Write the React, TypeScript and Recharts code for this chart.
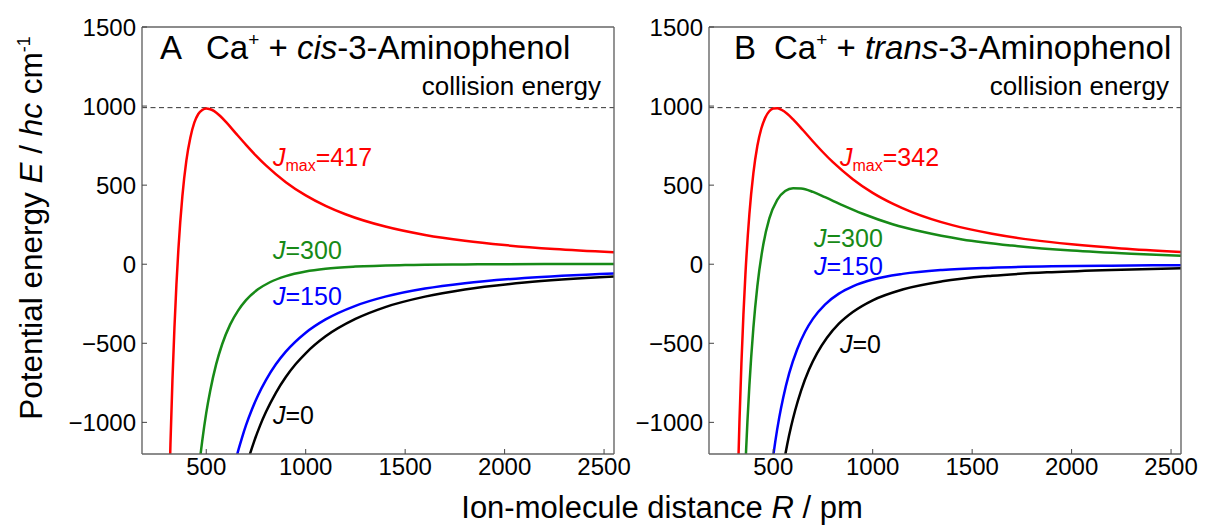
import React from 'react';
import { LineChart, Line, XAxis, YAxis, ReferenceLine } from 'recharts';

const FONT = '"Liberation Sans", Arial, Helvetica, sans-serif';

const xTicks = [500, 1000, 1500, 2000, 2500];
const yTicks = [-1000, -500, 0, 500, 1000, 1500];
const xDomain = [177, 2550];
const yDomain = [-1200, 1500];
const collisionEnergy = 990;

// A: Ca+ + cis-3-aminophenol, [R / pm, E / hc cm-1]
const cisJmax: [number, number][] = [
  [310, -1640], [320, -1140], [330, -735], [340, -405], [350, -130], [360, 95], [380, 430],
  [400, 655], [420, 800], [440, 895], [460, 950], [480, 975], [500, 985], [520, 980],
  [540, 968], [570, 937], [600, 898], [650, 826], [700, 755], [750, 687], [800, 625],
  [900, 519], [1000, 435], [1100, 369], [1200, 316], [1400, 238], [1600, 185], [1800, 148],
  [2000, 121], [2250, 96], [2550, 75],
];
const cisJ300: [number, number][] = [
  [460, -1325], [470, -1215], [480, -1115], [500, -940], [520, -800], [550, -632], [580, -506],
  [620, -382], [660, -293], [700, -227], [760, -159], [820, -114], [900, -75], [1000, -46],
  [1100, -29], [1250, -15], [1500, -5], [1800, -1], [2200, 1], [2550, 1],
];
const cisJ150: [number, number][] = [
  [640, -1280], [660, -1182], [680, -1096], [700, -1018], [730, -917], [760, -830], [800, -733],
  [850, -633], [900, -553], [1000, -433], [1100, -349], [1250, -263], [1400, -205], [1600, -154],
  [1800, -120], [2100, -87], [2550, -58],
];
const cisJ0: [number, number][] = [
  [700, -1282], [720, -1199], [740, -1123], [770, -1022], [800, -935], [850, -813], [900, -713],
  [950, -631], [1000, -563], [1100, -456], [1250, -346], [1400, -271], [1600, -205], [1800, -160],
  [2100, -116], [2550, -78],
];

// B: Ca+ + trans-3-aminophenol
const transJmax: [number, number][] = [
  [310, -2006], [320, -1455], [330, -1001], [340, -628], [350, -320], [360, -66], [380, 316],
  [400, 574], [420, 747], [440, 858], [460, 927], [480, 967], [500, 984], [520, 986],
  [540, 977], [570, 952], [600, 916], [650, 847], [700, 776], [750, 708], [800, 645],
  [900, 538], [1000, 451], [1100, 383], [1200, 328], [1400, 247], [1600, 193], [1800, 154],
  [2000, 126], [2250, 100], [2550, 78],
];
const transJ300: [number, number][] = [
  [340, -1982], [350, -1598], [360, -1273], [370, -1000], [380, -768], [400, -404], [420, -140],
  [450, 125], [480, 288], [520, 407], [560, 463], [600, 481], [640, 479], [700, 457],
  [760, 424], [850, 372], [950, 319], [1100, 253], [1250, 205], [1450, 157], [1700, 118],
  [2000, 86], [2300, 66], [2550, 54],
];
const transJ150: [number, number][] = [
  [490, -1308], [500, -1211], [510, -1123], [530, -970], [550, -844], [580, -690], [620, -539],
  [660, -427], [700, -344], [760, -255], [830, -186], [900, -140], [1000, -97], [1150, -61],
  [1350, -36], [1600, -22], [1900, -13], [2200, -9], [2550, -6],
];
const transJ0: [number, number][] = [
  [550, -1278], [560, -1207], [570, -1141], [590, -1025], [610, -925], [640, -799], [680, -666],
  [720, -564], [770, -465], [830, -376], [900, -302], [1000, -228], [1150, -160], [1350, -108],
  [1600, -73], [1900, -50], [2200, -36], [2550, -26],
];

const RED = '#ff0000';
const GREEN = '#178a17';
const BLUE = '#0000ff';
const BLACK = '#000000';

const toData = (pts: [number, number][]) => pts.map(([R, E]) => ({ R, E }));

const frame = { stroke: '#666', strokeWidth: 1.4 };
const tickLn = { stroke: '#444', strokeWidth: 1 };
const tickTxt = { fill: '#000', fontSize: 24, fontFamily: FONT };
const fmtY = (v: number) => (v < 0 ? '\u2212' + Math.abs(v) : String(v));

function Panel({ left, width, yAxisWidth, rightMargin, curves }: any) {
  return (
    <div style={{ position: 'absolute', left, top: 0 }}>
      <LineChart width={width} height={528} margin={{ top: 26, right: rightMargin, bottom: 0, left: 0 }}>
        <XAxis xAxisId="b" type="number" dataKey="R" domain={xDomain} allowDataOverflow
          ticks={xTicks} interval={0} height={74} tickSize={-5} tickMargin={9}
          axisLine={frame} tickLine={tickLn} tick={tickTxt} />
        <XAxis xAxisId="t" orientation="top" type="number" dataKey="R" domain={xDomain} allowDataOverflow
          ticks={xTicks} interval={0} height={1} tickSize={-5} tick={false}
          axisLine={frame} tickLine={tickLn} />
        <YAxis yAxisId="l" type="number" domain={yDomain} allowDataOverflow ticks={yTicks}
          interval={0} width={yAxisWidth} tickSize={-5} tickMargin={11}
          axisLine={frame} tickLine={tickLn} tick={tickTxt} tickFormatter={fmtY} />
        <YAxis yAxisId="r" orientation="right" type="number" domain={yDomain} allowDataOverflow
          ticks={yTicks} interval={0} width={1} tickSize={-5} tick={false}
          axisLine={frame} tickLine={tickLn} />
        <ReferenceLine xAxisId="b" yAxisId="l" y={collisionEnergy} stroke="#333"
          strokeWidth={1} strokeDasharray="5 3.5" />
        {curves.map((c: any, i: number) => (
          <Line key={i} xAxisId="b" yAxisId="l" data={toData(c.pts)} dataKey="E" type="monotone"
            stroke={c.color} strokeWidth={2.5} dot={false} activeDot={false} isAnimationActive={false} />
        ))}
      </LineChart>
    </div>
  );
}

function JLabel({ x, y, color, value, max }: any) {
  return (
    <text x={x} y={y} fill={color} fontSize={25} style={{ whiteSpace: 'pre' }}>
      <tspan fontStyle="italic">J</tspan>
      {max ? <tspan fontSize={16} dy={5}>max</tspan> : null}
      <tspan dy={max ? -5 : 0}>={value}</tspan>
    </text>
  );
}

function Title({ x, xLetter, letter, isomer }: any) {
  return (
    <g fontSize={33} fill="#000">
      <text x={xLetter} y={59}>{letter}</text>
      <text x={x} y={59} style={{ whiteSpace: 'pre' }}>
        Ca<tspan dy={-13} fontSize={19}>+</tspan>
        <tspan dy={13}> + </tspan>
        <tspan fontStyle="italic">{isomer}</tspan>
        <tspan>-3-Aminophenol</tspan>
      </text>
    </g>
  );
}

export default function App() {
  return (
    <div style={{ position: 'absolute', left: 0, top: 0, width: 1208, height: 528, background: '#fff', fontFamily: FONT }}>
      <Panel left={0} width={650} yAxisWidth={142} rightMargin={35}
        curves={[
          { pts: cisJmax, color: RED },
          { pts: cisJ300, color: GREEN },
          { pts: cisJ150, color: BLUE },
          { pts: cisJ0, color: BLACK },
        ]} />
      <Panel left={600} width={608} yAxisWidth={109} rightMargin={26}
        curves={[
          { pts: transJmax, color: RED },
          { pts: transJ300, color: GREEN },
          { pts: transJ150, color: BLUE },
          { pts: transJ0, color: BLACK },
        ]} />
      <svg width={1208} height={528} style={{ position: 'absolute', left: 0, top: 0, pointerEvents: 'none' }}
        fontFamily={FONT}>
        <Title xLetter={160} x={206} letter="A" isomer="cis" />
        <Title xLetter={734} x={774} letter="B" isomer="trans" />
        <text x={601} y={95} textAnchor="end" fontSize={26}>collision energy</text>
        <text x={1169} y={95} textAnchor="end" fontSize={26}>collision energy</text>

        <JLabel x={273} y={166} color={RED} value={417} max />
        <JLabel x={273} y={259} color={GREEN} value={300} />
        <JLabel x={273} y={305} color={BLUE} value={150} />
        <JLabel x={273} y={424} color={BLACK} value={0} />

        <JLabel x={840} y={166} color={RED} value={342} max />
        <JLabel x={814} y={247} color={GREEN} value={300} />
        <JLabel x={814} y={275} color={BLUE} value={150} />
        <JLabel x={840} y={353} color={BLACK} value={0} />

        <text x={662} y={518} textAnchor="middle" fontSize={31} style={{ whiteSpace: 'pre' }}>
          Ion-molecule distance <tspan fontStyle="italic">R</tspan> / pm
        </text>
        <text transform="translate(42,228) rotate(-90)" textAnchor="middle" fontSize={31.5} style={{ whiteSpace: 'pre' }}>
          Potential energy <tspan fontStyle="italic">E</tspan> / <tspan fontStyle="italic">hc</tspan> cm
          <tspan dy={-12} fontSize={18}>-1</tspan>
        </text>
      </svg>
    </div>
  );
}
